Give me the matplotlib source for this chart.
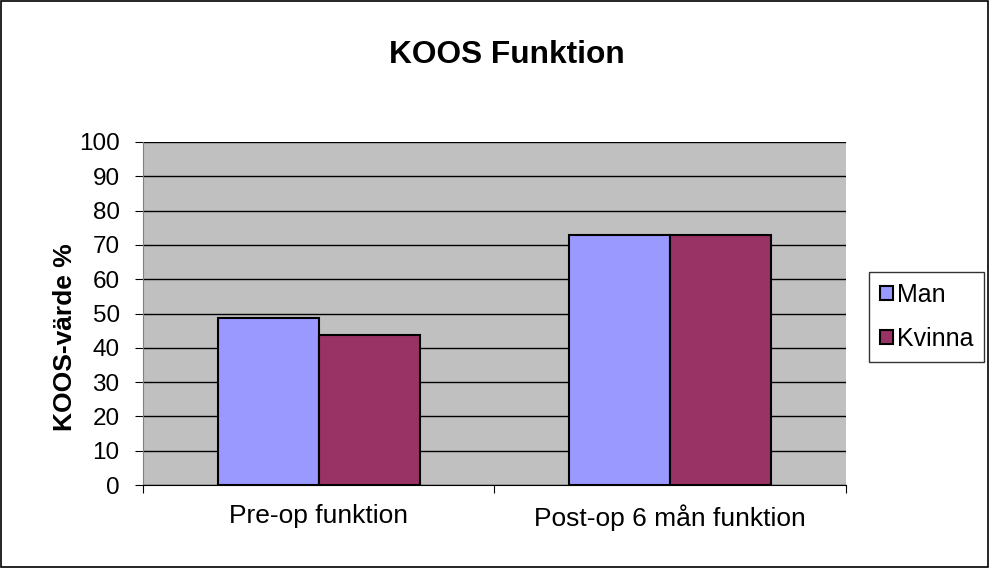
import numpy as np
import matplotlib.pyplot as plt

plt.rcParams['font.family'] = ['Liberation Sans', 'DejaVu Sans']

kategorier = ["Pre-op funktion", "Post-op 6 mån funktion"]
serier = ["Man", "Kvinna"]
man = [48.7, 72.9]
kvinna = [43.7, 72.9]
farger = ["#9999FF", "#993366"]

fig = plt.figure(figsize=(9.89, 5.68), dpi=100)
ax = fig.add_axes([0.1446, 0.1461, 0.7108, 0.6039])

x = np.arange(len(kategorier))
b = 0.287
ax.bar(x - b / 2, man, b, color=farger[0], edgecolor="black", linewidth=1.5, label=serier[0], zorder=3)
ax.bar(x + b / 2, kvinna, b, color=farger[1], edgecolor="black", linewidth=1.5, label=serier[1], zorder=3)

ax.set_facecolor("#C0C0C0")
ax.set_xlim(-0.5, len(kategorier) - 0.5)
ax.set_ylim(0, 100)
ax.set_yticks(np.arange(0, 101, 10))
ax.yaxis.grid(True, color="black", linewidth=1, zorder=0)
ax.set_axisbelow(True)

# tick marks at category borders, labels centered
ax.set_xticks(np.arange(-0.5, len(kategorier)), minor=False)
ax.set_xticklabels([])
ax.set_xticks(x, minor=True)
ax.set_xticklabels(kategorier, minor=True, fontsize=19)
ax.tick_params(axis="x", which="minor", length=0, pad=14)
ax.tick_params(axis="x", which="major", length=6, direction="out", color="black")
ax.tick_params(axis="y", length=5.8, direction="out", labelsize=17.5, pad=11)

for side in ["top", "right"]:
    ax.spines[side].set_visible(False)
ax.spines["left"].set_color("#808080")
ax.spines["bottom"].set_color("black")

ax.set_ylabel("KOOS-värde %", fontsize=19, fontweight="bold")
ax.yaxis.set_label_coords(-0.094, 0.43)
fig.text(0.5126, 0.903, "KOOS Funktion", fontsize=22.8, fontweight="bold", ha="center", va="center")

leg = ax.legend(loc="center left", bbox_to_anchor=(1.033, 0.49), fontsize=18, frameon=True,
                fancybox=False, edgecolor="black", handlelength=0.5, handleheight=0.5,
                handletextpad=0.15, borderpad=0.45, borderaxespad=0, labelspacing=0.8)
leg.get_frame().set_linewidth(1)

fig.patches.append(plt.Rectangle((0.001, 0.001), 0.998, 0.997, transform=fig.transFigure,
                                 fill=False, edgecolor="black", linewidth=1.2))

fig.savefig("out.png", dpi=100)
